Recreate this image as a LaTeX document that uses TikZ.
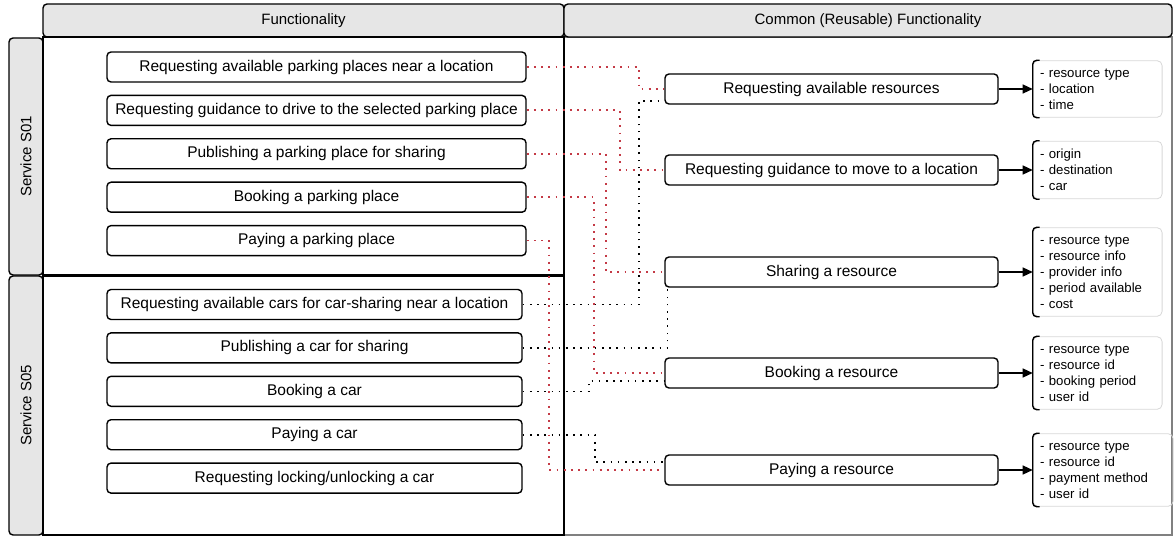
\documentclass[tikz,border=0pt]{standalone}
\usepackage{fontspec}
\setmainfont{Liberation Sans}
\usetikzlibrary{positioning,arrows.meta}

\definecolor{lanegray}{RGB}{230,230,230}
\definecolor{linkred}{RGB}{196,58,70}
\definecolor{notegray}{RGB}{215,215,215}

\tikzset{
	lane/.style={draw, line width=1.4pt},
	task/.style={draw, line width=1.4pt, rounded corners=4pt, fill=white, minimum width=419pt, minimum height=30pt, inner sep=0pt, font=\fontsize{15.5}{18}\selectfont},
	task5/.style={task, minimum width=415pt},
	reuse/.style={draw, line width=1.4pt, rounded corners=4pt, fill=white, minimum width=333pt, minimum height=30pt, inner sep=0pt, font=\fontsize{15.5}{18}\selectfont},
	params/.style={draw=notegray, line width=0.8pt, rounded corners=5pt, align=left, text width=115pt, inner xsep=7pt, inner ysep=8pt, font=\fontsize{13.2}{16}\selectfont},
	brk/.style={line width=1.4pt, rounded corners=4pt},
	feed/.style={-{Triangle[length=10pt,width=9pt]}, line width=1.3pt},
	redlink/.style={linkred, line width=1.8pt, dash pattern=on 1.8pt off 5.4pt},
	blklink/.style={black, line width=1.6pt, dash pattern=on 1.6pt off 5.6pt}
}

\begin{document}
\begin{tikzpicture}[x=1pt, y=-1pt, node distance=12pt, font=\fontsize{15}{18}\selectfont]
	\useasboundingbox (0,0) rectangle (1174,537);

	\draw[lane, draw=gray] (564,37) rectangle (1172,535);
	\draw[lane, fill=lanegray, rounded corners=4pt] (43,4) rectangle (564,37);
	\draw[lane, fill=lanegray, rounded corners=4pt] (564,4) rectangle (1172,37);
	\draw[lane, fill=lanegray, rounded corners=4pt] (9,38) rectangle (43,275);
	\draw[lane, fill=white] (43,37) rectangle (564,275);
	\draw[lane, fill=lanegray, rounded corners=4pt] (9,276) rectangle (43,535);
	\draw[lane, fill=white] (43,276) rectangle (564,535);
	\draw[line width=2.4pt] (564,37) -- (564,535);

	\node (h1) at (303.5,20.5) {Functionality};
	\node (h2) at (868,20.5) {Common (Reusable) Functionality};
	\node [rotate=90] (s1) at (26,156.5) {Service S01};
	\node [rotate=90] (s5) at (26,405.5) {Service S05};

	\node [task] (f1) at (316.5,67) {Requesting available parking places near a location};
	\node [task, below=of f1] (f2) {Requesting guidance to drive to the selected parking place};
	\node [task, below=of f2] (f3) {Publishing a parking place for sharing};
	\node [task, below=of f3] (f4) {Booking a parking place};
	\node [task, below=of f4] (f5) {Paying a parking place};
	\node [task5, below=32.5pt of f5.south west, anchor=north west] (g1) {Requesting available cars for car-sharing near a location};
	\node [task5, below=of g1] (g2) {Publishing a car for sharing};
	\node [task5, below=of g2] (g3) {Booking a car};
	\node [task5, below=of g3] (g4) {Paying a car};
	\node [task5, below=of g4] (g5) {Requesting locking/unlocking a car};

	\node [reuse] (r1) at (831.5,89) {Requesting available resources};
	\node [reuse, below=49.6pt of r1] (r2) {Requesting guidance to move to a location};
	\node [reuse, below=70.6pt of r2] (r3) {Sharing a resource};
	\node [reuse, below=69.6pt of r3] (r4) {Booking a resource};
	\node [reuse, below=65.6pt of r4] (r5) {Paying a resource};

	\node [params, right=34pt of r1] (n1) {- resource type\\- location\\- time};
	\node [params, right=34pt of r2] (n2) {- origin\\- destination\\- car};
	\node [params, right=34pt of r3] (n3) {- resource type\\- resource info\\- provider info\\- period available\\- cost};
	\node [params, right=34pt of r4] (n4) {- resource type\\- resource id\\- booking period\\- user id};
	\node [params, text width=126pt, right=34pt of r5] (n5) {- resource type\\- resource id\\- payment method\\- user id};

	\draw[brk] ([xshift=7pt]n1.north west) -- (n1.north west) -- (n1.south west) -- ([xshift=7pt]n1.south west);
	\draw[brk] ([xshift=7pt]n2.north west) -- (n2.north west) -- (n2.south west) -- ([xshift=7pt]n2.south west);
	\draw[brk] ([xshift=7pt]n3.north west) -- (n3.north west) -- (n3.south west) -- ([xshift=7pt]n3.south west);
	\draw[brk] ([xshift=7pt]n4.north west) -- (n4.north west) -- (n4.south west) -- ([xshift=7pt]n4.south west);
	\draw[brk] ([xshift=7pt]n5.north west) -- (n5.north west) -- (n5.south west) -- ([xshift=7pt]n5.south west);

	\draw[feed] (r1) -- (n1);
	\draw[feed] (r2) -- (n2);
	\draw[feed] (r3) -- (n3);
	\draw[feed] (r4) -- (n4);
	\draw[feed] (r5) -- (n5);

	\draw[redlink] (f1.east) -- ++(112pt,0) |- (r1.west);
	\draw[redlink] (f2.east) -- ++(93pt,0) |- (r2.west);
	\draw[redlink] (f3.east) -- ++(79pt,0) |- (r3.west);
	\draw[redlink] (f4.east) -- ++(67pt,0) |- (r4.west);
	\draw[redlink] (f5.east) -- ++(22pt,0) |- (r5.west);

	\draw[blklink] (g1.east) -- ++(116pt,0) |- ([yshift=-12pt]r1.west);
	\draw[blklink] (g2.east) -| ([xshift=3pt]r3.south west);
	\draw[blklink] (g3.east) -- ++(66pt,0) |- ([yshift=-8pt]r4.west);
	\draw[blklink] (g4.east) -- ++(72pt,0) |- ([yshift=8pt]r5.west);
\end{tikzpicture}
\end{document}
